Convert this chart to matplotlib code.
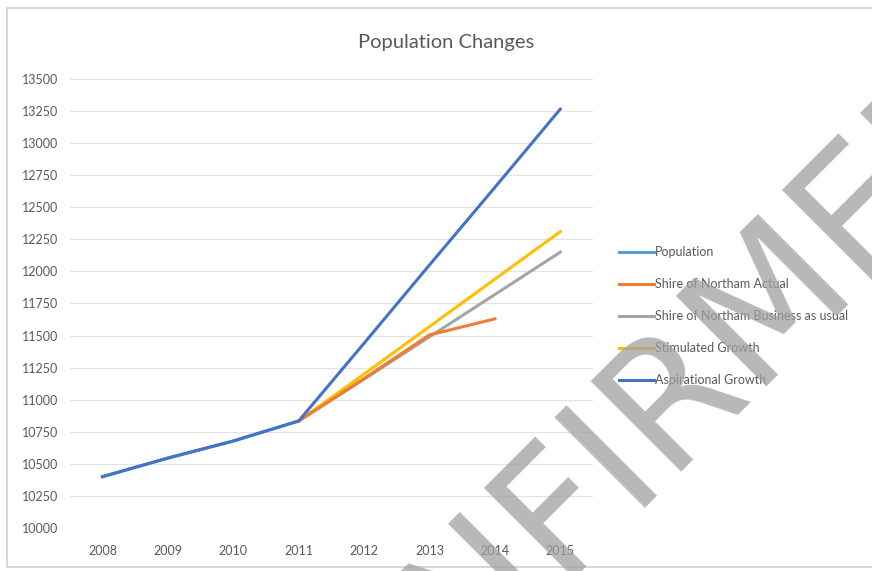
import matplotlib.pyplot as plt
from matplotlib.patches import Rectangle

# Datos
years = ["2008", "2009", "2010", "2011", "2012", "2013", "2014", "2015"]
population = [10400, 10545, 10678, 10834]
northam_actual = [10834, 11165, 11505, 11630]
business_as_usual = [10834, 11160, 11490, 11820, 12150]
stimulated_growth = [10834, 11200, 11570, 11940, 12310]
aspirational_growth = [10834, 11440, 12050, 12655, 13265]

plt.rcParams['font.family'] = ['Lato', 'DejaVu Sans']
text_color = '#595959'

fig = plt.figure(figsize=(8.72, 5.71), dpi=100)
ax = fig.add_axes([0.080, 0.0753, 0.600, 0.7864])

x_all = list(range(len(years)))
ax.plot(x_all[:4], population, color='#5b9bd5', lw=2.2, label='Population', zorder=3)
ax.plot(x_all[3:7], northam_actual, color='#ed7d31', lw=2.2, label='Shire of Northam Actual', zorder=3)
ax.plot(x_all[3:], business_as_usual, color='#a5a5a5', lw=2.2, label='Shire of Northam Business as usual', zorder=2)
ax.plot(x_all[3:], stimulated_growth, color='#ffc000', lw=2.2, label='Stimulated Growth', zorder=2)
ax.plot(x_all, population + aspirational_growth[1:], color='#4472c4', lw=2.2,
        label='Aspirational Growth', zorder=4)

ax.set_xlim(-0.5, 7.5)
ax.set_ylim(10000, 13500)
ax.set_xticks(x_all)
ax.set_xticklabels(years)
ax.set_yticks(range(10000, 13501, 250))
ax.tick_params(length=0, labelsize=9, colors=text_color)
ax.tick_params(axis='y', pad=8)
ax.tick_params(axis='x', pad=12)
ax.grid(axis='y', color='#e3e3e3', lw=0.9)
ax.set_axisbelow(True)
for s in ax.spines.values():
    s.set_visible(False)

fig.text(0.512, 0.926, 'Population Changes', ha='center', va='center', fontsize=14.5, color=text_color)

fig.legend(loc='upper left', bbox_to_anchor=(0.697, 0.589), frameon=False, fontsize=9,
           labelcolor=text_color, handlelength=2.8, handletextpad=0.1, labelspacing=1.6)

# marco del grafico
fig.patches.append(Rectangle((7 / 872, 1 - 567 / 571), 1.0, 559 / 571, transform=fig.transFigure,
                             fill=False, edgecolor='#d0d0d0', lw=1.2))

# marca de agua
fig.text(0.610, 0.058, 'UNCONFIRMED', rotation=45, rotation_mode='anchor', ha='center', va='center',
         fontsize=125, family='DejaVu Sans', color='#a0a0a0', alpha=0.75, zorder=10)

fig.savefig('out.png', dpi=100)
